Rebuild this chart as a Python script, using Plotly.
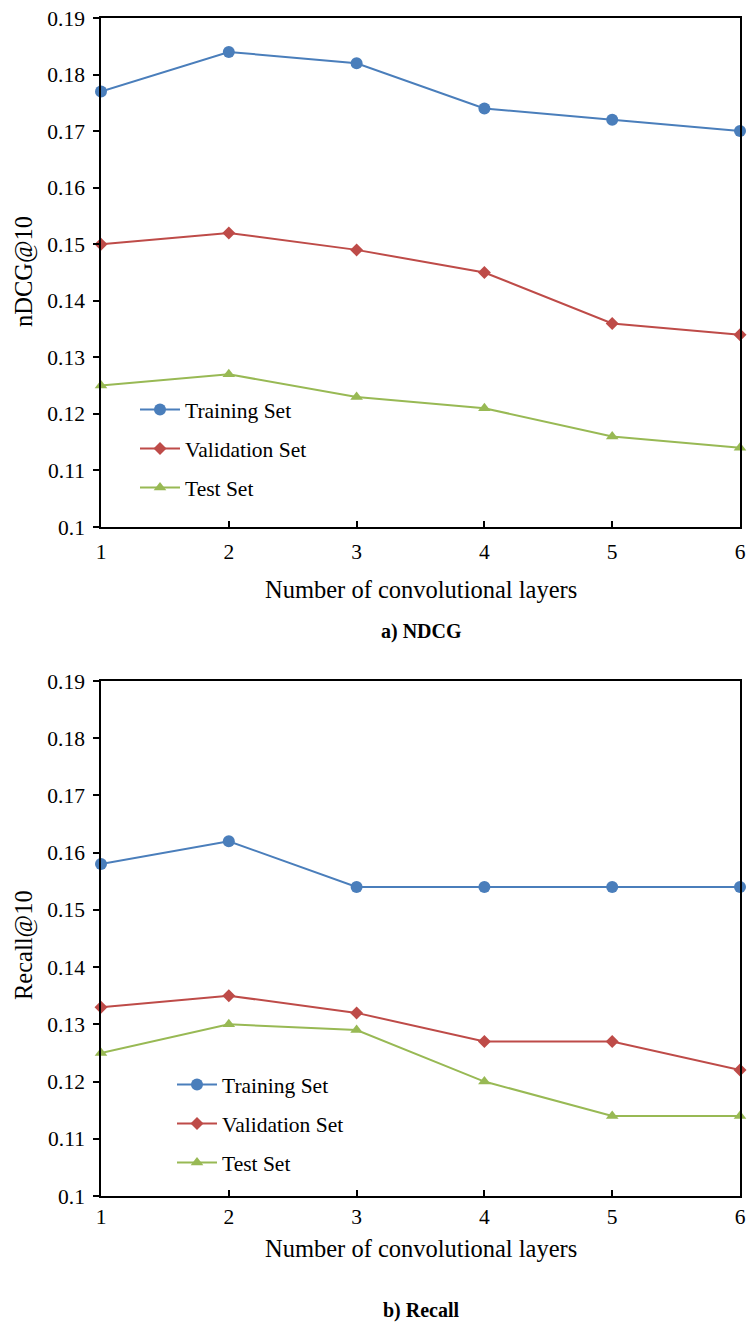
import plotly.graph_objects as go

layers = [1, 2, 3, 4, 5, 6]
series_names = ["Training Set", "Validation Set", "Test Set"]

ndcg_train = [0.177, 0.184, 0.182, 0.174, 0.172, 0.170]
ndcg_val = [0.150, 0.152, 0.149, 0.145, 0.136, 0.134]
ndcg_test = [0.125, 0.127, 0.123, 0.121, 0.116, 0.114]

recall_train = [0.158, 0.162, 0.154, 0.154, 0.154, 0.154]
recall_val = [0.133, 0.135, 0.132, 0.127, 0.127, 0.122]
recall_test = [0.125, 0.130, 0.129, 0.120, 0.114, 0.114]

y_ticks = [0.10, 0.11, 0.12, 0.13, 0.14, 0.15, 0.16, 0.17, 0.18, 0.19]
y_tick_labels = ["0.1", "0.11", "0.12", "0.13", "0.14", "0.15", "0.16", "0.17", "0.18", "0.19"]

colors = ["#4A7EBB", "#BE4B48", "#98B954"]
symbols = ["circle", "diamond", "triangle-up"]
msizes = [12, 10, 11]

W, H = 750, 1327
FONT = "Liberation Serif"

def px_x(v):
    return v / W

def px_y(v):
    return 1 - v / H

fig = go.Figure()

panels = [
    ("x", "y", "legend", [ndcg_train, ndcg_val, ndcg_test]),
    ("x2", "y2", "legend2", [recall_train, recall_val, recall_test]),
]

for xa, ya, lg, data in panels:
    for i, vals in enumerate(data):
        fig.add_trace(go.Scatter(
            x=layers, y=vals, xaxis=xa, yaxis=ya,
            mode="lines+markers", name=series_names[i],
            line=dict(color=colors[i], width=2),
            marker=dict(color=colors[i], symbol=symbols[i], size=msizes[i]),
            cliponaxis=False, legend=lg, legendgroup=lg + str(i),
        ))

xdom = [px_x(101), px_x(740)]
top_dom = [px_y(527), px_y(18)]
bot_dom = [px_y(1196), px_y(681)]

axis_common = dict(showline=True, linecolor="black", linewidth=1.5, mirror=True,
                   showgrid=False, zeroline=False, automargin=False,
                   tickfont=dict(family=FONT, size=21.5, color="black"))

xcommon = dict(axis_common, range=[1, 6], tickvals=layers, ticks="inside",
               ticklen=6, tickcolor="black", tickwidth=1.5)
ycommon = dict(axis_common, range=[0.1, 0.19], tickvals=y_ticks, ticktext=y_tick_labels,
               ticks="outside", ticklen=6, tickcolor="black", tickwidth=1.5,
               ticklabelstandoff=4)

legend_common = dict(font=dict(family=FONT, size=21.5, color="black"),
                     bgcolor="rgba(0,0,0,0)", tracegroupgap=8,
                     xanchor="left", yanchor="top", itemwidth=40)

fig.update_layout(
    width=W, height=H,
    margin=dict(l=0, r=0, t=0, b=0, autoexpand=False),
    paper_bgcolor="white", plot_bgcolor="white",
    xaxis=dict(xcommon, domain=xdom, anchor="y", ticklabelstandoff=4),
    yaxis=dict(ycommon, domain=top_dom, anchor="x"),
    xaxis2=dict(xcommon, domain=xdom, anchor="y2", ticklabelstandoff=0),
    yaxis2=dict(ycommon, domain=bot_dom, anchor="x2"),
    legend=dict(legend_common, x=px_x(135), y=px_y(389)),
    legend2=dict(legend_common, x=px_x(172), y=px_y(1064)),
)

annots = [
    dict(text="nDCG@10", x=px_x(24), y=px_y(272), textangle=-90, size=24.5, bold=False),
    dict(text="Number of convolutional layers", x=px_x(421), y=px_y(589), textangle=0, size=24.5, bold=False),
    dict(text="a) NDCG", x=px_x(421), y=px_y(631), textangle=0, size=20, bold=True),
    dict(text="Recall@10", x=px_x(24), y=px_y(945), textangle=-90, size=24.5, bold=False),
    dict(text="Number of convolutional layers", x=px_x(421), y=px_y(1248), textangle=0, size=24.5, bold=False),
    dict(text="b) Recall", x=px_x(421), y=px_y(1310), textangle=0, size=20, bold=True),
]
for a in annots:
    fig.add_annotation(
        text=("<b>%s</b>" % a["text"]) if a["bold"] else a["text"],
        x=a["x"], y=a["y"], xref="paper", yref="paper",
        xanchor="center", yanchor="middle", showarrow=False,
        textangle=a["textangle"],
        font=dict(family=FONT, size=a["size"], color="black"),
    )

fig.write_html("out.html", config={"displayModeBar": False},
               post_script="document.body.style.margin='0';document.body.style.padding='0';")
